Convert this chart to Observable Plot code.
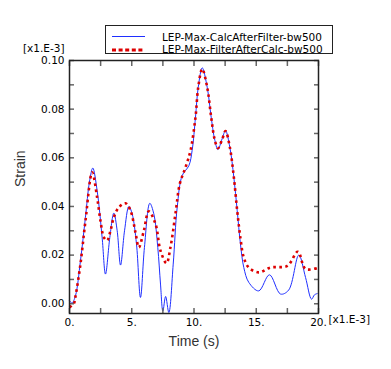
<!DOCTYPE html>
<html>
<head>
<meta charset="utf-8">
<script src="https://cdn.jsdelivr.net/npm/d3@7"></script>
<script src="https://cdn.jsdelivr.net/npm/@observablehq/plot@0.6"></script>
<style>
  html, body { margin: 0; padding: 0; background: white; }
  #wrap { position: relative; width: 391px; height: 369px; }
  #legend { position: absolute; left: 105px; top: 25px; }
</style>
</head>
<body>
<div id="wrap"></div>
<script>
// Series 1: LEP-Max-CalcAfterFilter-bw500 (blue solid)
const blueT = [0, 0.2, 0.48, 0.88, 1.28, 1.6, 1.87, 2.22, 2.62, 2.89, 3.24, 3.56, 3.83, 4.10, 4.42, 4.77, 5.03, 5.38, 5.70, 6.02, 6.45, 6.77, 7.09, 7.31, 7.5, 7.72, 7.98, 8.33, 8.65, 9.05, 9.59, 9.85, 10.12, 10.34, 10.66, 11.06, 11.38, 11.65, 11.92, 12.26, 12.53, 12.88, 13.2, 13.47, 13.73, 14.0, 14.4, 15.2, 16.06, 16.95, 17.6, 18.42, 18.96, 19.44, 19.68, 19.9];
const blueV = [0.0012, 0.0003, 0.0033, 0.0177, 0.0355, 0.050, 0.0558, 0.0465, 0.0273, 0.0122, 0.0273, 0.0373, 0.030, 0.0159, 0.030, 0.040, 0.037, 0.0246, 0.0026, 0.0232, 0.0413, 0.037, 0.0232, 0.0081, -0.003, 0.003, -0.0036, 0.0163, 0.0396, 0.0527, 0.0568, 0.063, 0.0767, 0.089, 0.097, 0.089, 0.0767, 0.0678, 0.0634, 0.0678, 0.0712, 0.0643, 0.052, 0.0383, 0.0246, 0.0149, 0.0088, 0.0053, 0.0119, 0.004, 0.0056, 0.020, 0.0108, 0.0019, 0.0037, 0.0042];
// Series 2: LEP-Max-FilterAfterCalc-bw500 (red dotted)
const redT = [0, 0.35, 0.48, 0.88, 1.28, 1.82, 2.22, 2.49, 2.76, 3.02, 3.29, 3.56, 3.96, 4.5, 4.9, 5.3, 5.57, 5.97, 6.37, 6.91, 7.31, 7.79, 8.11, 8.51, 8.86, 9.32, 9.72, 10.12, 10.34, 10.66, 11.06, 11.38, 11.65, 11.92, 12.26, 12.53, 12.88, 13.2, 13.47, 13.73, 14.0, 14.4, 15.2, 16.14, 17.5, 18.34, 18.96, 19.9];
const redV = [-0.0015, 0.0001, 0.003, 0.0163, 0.034, 0.054, 0.0437, 0.034, 0.0273, 0.026, 0.030, 0.0355, 0.0396, 0.0413, 0.0383, 0.0293, 0.0232, 0.030, 0.038, 0.0328, 0.0218, 0.0167, 0.0232, 0.037, 0.0493, 0.0561, 0.063, 0.0767, 0.089, 0.0965, 0.089, 0.0767, 0.0678, 0.0640, 0.0675, 0.0710, 0.0643, 0.052, 0.0383, 0.027, 0.019, 0.0149, 0.0129, 0.0149, 0.0156, 0.0214, 0.0143, 0.0147];

const seriesNames = ["LEP-Max-CalcAfterFilter-bw500", "LEP-Max-FilterAfterCalc-bw500"];
const yMinorTicks = [0, 0.01, 0.02, 0.03, 0.04, 0.05, 0.06, 0.07, 0.08, 0.09, 0.10];
const yLabelTicks = [0, 0.02, 0.04, 0.06, 0.08, 0.10];
const xMinorTicks = [0, 2.5, 5, 7.5, 10, 12.5, 15, 17.5, 20];
const xLabelTicks = [0, 5, 10, 15, 20];
const xTitle = "Time (s)";
const yTitle = "Strain";
const scaleNote = "[x1.E-3]";

const blue = blueT.map((t, i) => ({t, v: blueV[i]}));
const red = redT.map((t, i) => ({t, v: redV[i]}));

const tickStyle = {stroke: "#666", strokeWidth: 1.5};

const chart = Plot.plot({
  width: 391,
  height: 369,
  marginLeft: 69,
  marginRight: 73,
  marginTop: 60,
  marginBottom: 56,
  style: {fontFamily: "DejaVu Sans", fontSize: "10.5px", background: "white", color: "black"},
  x: {domain: [0, 20]},
  y: {domain: [-0.004, 0.1]},
  marks: [
    Plot.line(blue, {x: "t", y: "v", stroke: "#1f2fff", strokeWidth: 1, curve: "catmull-rom"}),
    Plot.line(red, {x: "t", y: "v", stroke: "#dd0000", strokeWidth: 2.6, strokeDasharray: "2.6,3.4", strokeLinecap: "butt", curve: "catmull-rom"}),
    Plot.axisY(yMinorTicks, {anchor: "left", tickSize: -5, tickFormat: () => "", label: null, ...tickStyle}),
    Plot.axisY(yMinorTicks, {anchor: "right", tickSize: -5, tickFormat: () => "", label: null, ...tickStyle}),
    Plot.axisX(xMinorTicks, {anchor: "bottom", tickSize: -5, tickFormat: () => "", label: null, ...tickStyle}),
    Plot.axisX(xMinorTicks, {anchor: "top", tickSize: -5, tickFormat: () => "", label: null, ...tickStyle}),
    Plot.axisY(yLabelTicks, {anchor: "left", tickSize: 0, tickPadding: 5, tickFormat: d3.format(".2f"), label: null, fill: "black"}),
    Plot.axisX(xLabelTicks, {anchor: "bottom", tickSize: 0, tickPadding: 5, tickFormat: d => d + ".", label: null, fill: "black"}),
    Plot.frame({stroke: "#222", strokeWidth: 1.5}),
    Plot.text([scaleNote], {text: d => d, frameAnchor: "top-left", dx: -5, dy: -16, textAnchor: "end", fill: "black"}),
    Plot.text([scaleNote], {text: d => d, frameAnchor: "bottom-right", dx: 10, dy: 9, textAnchor: "start", fill: "black"}),
    Plot.text([yTitle], {text: d => d, frameAnchor: "left", dx: -49, rotate: -90, fontSize: 14, fontFamily: "Liberation Sans, Arial, sans-serif", fill: "#333"}),
    Plot.text([xTitle], {text: d => d, frameAnchor: "bottom", dy: 32, fontSize: 14, fontFamily: "Liberation Sans, Arial, sans-serif", fill: "#333"})
  ]
});

const wrap = document.getElementById("wrap");
wrap.appendChild(chart);

// Legend overlay
const legend = document.createElement("div");
legend.id = "legend";
legend.innerHTML = `
<svg width="228" height="29" xmlns="http://www.w3.org/2000/svg" style="font-family: 'DejaVu Sans'; font-size: 10.5px;">
  <rect x="0.5" y="0.5" width="227" height="28" fill="white" stroke="#222" stroke-width="1"/>
  <line x1="7" x2="40" y1="11.5" y2="11.5" stroke="#1f2fff" stroke-width="1"/>
  <line x1="7" x2="40" y1="25" y2="25" stroke="#dd0000" stroke-width="3" stroke-dasharray="4,2.6"/>
  <text x="57" y="15.5" fill="black">${seriesNames[0]}</text>
  <text x="57" y="27.5" fill="black">${seriesNames[1]}</text>
</svg>`;
wrap.appendChild(legend);
</script>
</body>
</html>
